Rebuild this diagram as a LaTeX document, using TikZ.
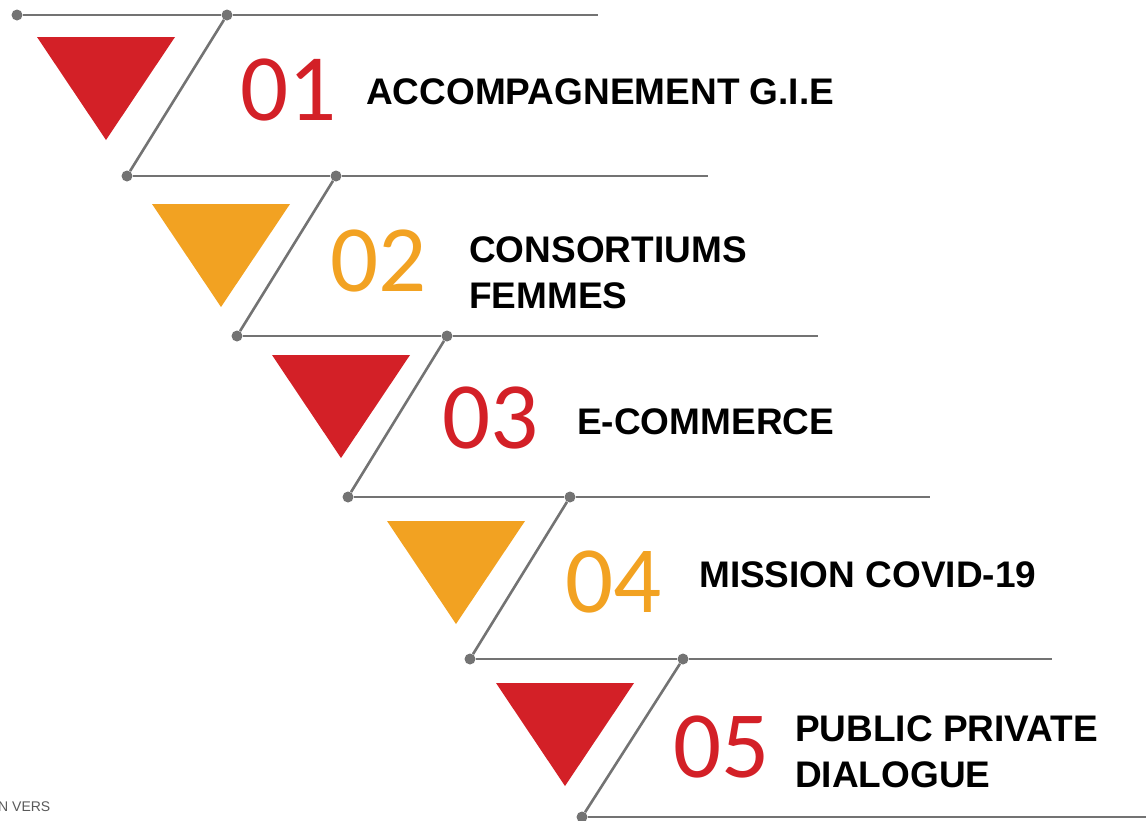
\documentclass[tikz,border=0pt]{standalone}
\usepackage{fontspec}
\setmainfont{Liberation Sans}
\newfontfamily\numfont{Carlito}
\definecolor{stepred}{HTML}{D32027}
\definecolor{steporange}{HTML}{F2A222}
\definecolor{linegray}{HTML}{737373}

\tikzset{
  ladder/.style={draw=linegray, line width=2.6pt},
  knot/.style={circle, fill=linegray, inner sep=0pt, minimum size=11pt},
  num/.style={anchor=base west, inner sep=0pt, font=\numfont\fontsize{95}{95}\selectfont},
  lbl/.style={anchor=base west, inner sep=0pt, align=left, font=\bfseries\fontsize{37}{46}\selectfont},
}

\begin{document}
\begin{tikzpicture}[x=1pt,y=-1pt]
   \useasboundingbox (0,0) rectangle (1146,820);
   % rungs of the ladder
   \foreach \i/\px/\qx/\rx/\y in {0/17/227/598/15, 1/127/336/708/176, 2/237/447/818/336,
                                  3/348/570/930/497, 4/470/683/1052/659}{
      \node[knot] (p\i) at (\px,\y) {};
      \node[knot] (q\i) at (\qx,\y) {};
      \coordinate (r\i) at (\rx,\y);
      \draw[ladder] (p\i) -- (q\i) -- (r\i);
   }
   \node[knot] (p5) at (582,817) {};
   \coordinate (r5) at (1146,817);
   \draw[ladder] (p5) -- (r5);
   % slanted sides
   \foreach \i/\j in {0/1, 1/2, 2/3, 3/4, 4/5}
      \draw[ladder] (q\i) -- (p\j);
   % triangles
   \foreach \tx/\ty/\col in {37/37/stepred, 152/204/steporange, 272/355/stepred,
                             387/521/steporange, 496/683/stepred}
      \fill[\col] (\tx,\ty) -- ++(138,0) -- ++(-69,103) -- cycle;
   % numbers
   \node[num, text=stepred]    (n1) at (240,120) {01};
   \node[num, text=steporange] (n2) at (330,291) {02};
   \node[num, text=stepred]    (n3) at (442,448) {03};
   \node[num, text=steporange] (n4) at (565,612) {04};
   \node[num, text=stepred]    (n5) at (673,777) {05};
   % labels (base is the last line)
   \node[lbl] (l1) at (366,104) {ACCOMPAGNEMENT G.I.E};
   \node[lbl] (l2) at (469,308) {CONSORTIUMS\\FEMMES};
   \node[lbl] (l3) at (577,434) {E-COMMERCE};
   \node[lbl] (l4) at (699,587) {MISSION COVID-19};
   \node[lbl] (l5) at (795,787) {PUBLIC PRIVATE\\DIALOGUE};
   % cut-off footer text
   \node[anchor=base west, inner sep=0pt, text=black!65, font=\fontsize{14}{14}\selectfont] (foot) at (-2,811) {N VERS};
\end{tikzpicture}
\end{document}
